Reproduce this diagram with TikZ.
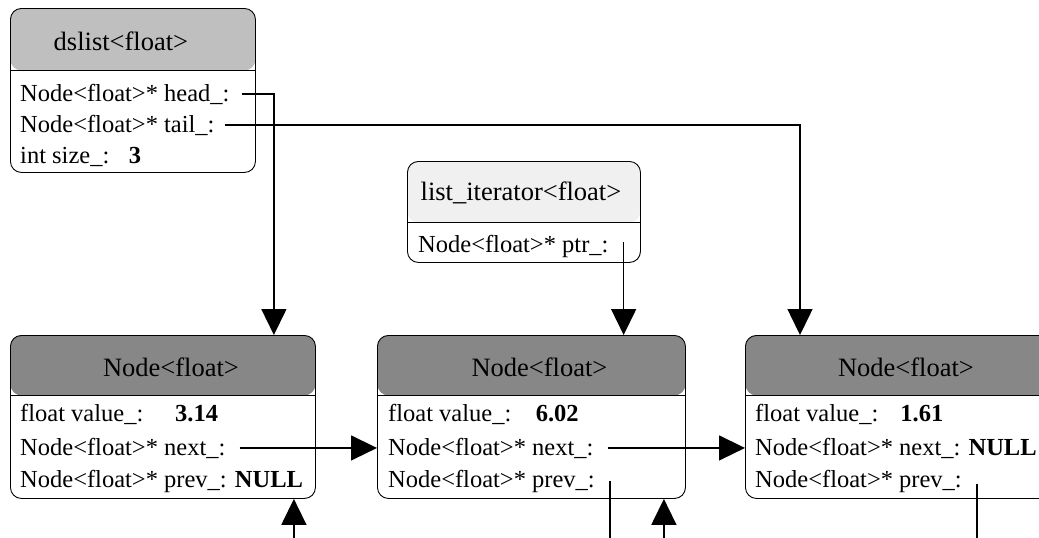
\documentclass[tikz,border=0pt]{standalone}
\usepackage{fontspec}
\setmainfont{Liberation Serif}
\usetikzlibrary{
  arrows.meta,
  positioning
}

\newcommand{\rowfont}{\fontsize{24.5}{29}\selectfont}
\newcommand{\titlefont}{\fontsize{26.5}{31}\selectfont}

\begin{document}
\begin{tikzpicture}[
  x=1pt, y=-1pt,
  umlbox/.style 2 args={
    draw,
    line width=0.9pt,
    rounded corners=11pt,
    anchor=north west,
    inner sep=0pt,
    path picture={
      \fill[#1] (path picture bounding box.north west) rectangle ([yshift=-#2]path picture bounding box.north east);
      \draw[line width=0.9pt] ([yshift=-#2]path picture bounding box.north west) -- ([yshift=-#2]path picture bounding box.north east);
    }
  },
  title/.style={font=\titlefont, inner sep=0pt},
  field/.style={font=\rowfont, anchor=base west, inner sep=0pt},
  ptr/.style={-{Triangle[length=26pt,width=25pt]}, line width=1.5pt},
  link/.style={line width=1.5pt}
]
\useasboundingbox (0,0) rectangle (1039,538);

% the list object
\node[umlbox={black!25}{62pt}, minimum width=245pt, minimum height=164pt] (dslist) at (10,8) {};
\node[title, xshift=-12pt] at ([yshift=-33pt]dslist.north) {dslist<float>};
\node[field] (d-head) at ([xshift=10pt,yshift=-93pt]dslist.north west) {Node<float>* head\_:};
\node[field] (d-tail) at ([xshift=10pt,yshift=-124pt]dslist.north west) {Node<float>* tail\_:};
\node[field] (d-size) at ([xshift=10pt,yshift=-155pt]dslist.north west) {int size\_:\hspace{0.8em}\textbf{3}};

% the iterator
\node[umlbox={black!6}{61pt}, minimum width=233pt, minimum height=101pt] (iter) at (407,161) {};
\node[title, xshift=-3pt] at ([yshift=-32pt]iter.north) {list\_iterator<float>};
\node[field] (it-ptr) at ([xshift=11pt,yshift=-91pt]iter.north west) {Node<float>* ptr\_:};

% the three list nodes
\node[umlbox={black!47}{60pt}, minimum width=305pt, minimum height=163pt] (n1) at (10,335) {};
\node[umlbox={black!47}{60pt}, minimum width=308pt, minimum height=163pt] (n2) at (377,335) {};
\node[umlbox={black!47}{60pt}, minimum width=305pt, minimum height=163pt] (n3) at (745,335) {};

\node[title, xshift=8pt] at ([yshift=-32pt]n1.north) {Node<float>};
\node[title, xshift=8pt] at ([yshift=-32pt]n2.north) {Node<float>};
\node[title, xshift=8pt] at ([yshift=-32pt]n3.north) {Node<float>};

\node[field] (n1-val) at ([xshift=10pt,yshift=-86pt]n1.north west) {float value\_:\hspace{1.3em}\textbf{3.14}};
\node[field] (n1-next) at ([xshift=10pt,yshift=-120pt]n1.north west) {Node<float>* next\_:};
\node[field] (n1-prev) at ([xshift=10pt,yshift=-152pt]n1.north west) {Node<float>* prev\_: \textbf{NULL}};

\node[field] (n2-val) at ([xshift=11pt,yshift=-86pt]n2.north west) {float value\_:\hspace{1em}\textbf{6.02}};
\node[field] (n2-next) at ([xshift=11pt,yshift=-120pt]n2.north west) {Node<float>* next\_:};
\node[field] (n2-prev) at ([xshift=11pt,yshift=-152pt]n2.north west) {Node<float>* prev\_:};

\node[field] (n3-val) at ([xshift=10pt,yshift=-86pt]n3.north west) {float value\_:\hspace{0.9em}\textbf{1.61}};
\node[field] (n3-next) at ([xshift=10pt,yshift=-120pt]n3.north west) {Node<float>* next\_: \textbf{NULL}};
\node[field] (n3-prev) at ([xshift=10pt,yshift=-152pt]n3.north west) {Node<float>* prev\_:};

% pointers
\coordinate (bottom) at (0,538);
\coordinate (n1-in) at ([xshift=-22pt]n1.south east);
\coordinate (n2-in) at ([xshift=-22pt]n2.south east);
\coordinate (it-out) at ([xshift=15pt,yshift=4pt]it-ptr.east);
\coordinate (n2-out) at ([xshift=15pt,yshift=0pt]n2-prev.east);
\coordinate (n3-out) at ([xshift=15pt,yshift=-3pt]n3-prev.east);

\draw[ptr] ([xshift=12pt]d-head.east) -| ([xshift=-42pt]n1.north east);
\draw[ptr] ([xshift=10pt]d-tail.east) -| ([xshift=55pt]n3.north west);
\draw[ptr] (it-out) -- (it-out |- n2.north);
\draw[ptr] ([xshift=14pt]n1-next.east) -- (n1-next.east -| n2.west);
\draw[ptr] ([xshift=14pt]n2-next.east) -- (n2-next.east -| n3.west);
\draw[link] (n2-out) -- (n2-out |- bottom);
\draw[link] (n3-out) -- (n3-out |- bottom);
\draw[ptr] (n1-in |- bottom) -- (n1-in);
\draw[ptr] (n2-in |- bottom) -- (n2-in);
\end{tikzpicture}
\end{document}
